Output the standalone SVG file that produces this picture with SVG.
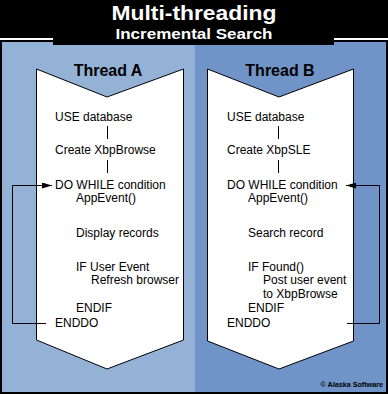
<svg xmlns="http://www.w3.org/2000/svg" width="388" height="394" viewBox="0 0 388 394">
<style>
.t{font-family:"Liberation Sans",Arial,sans-serif;font-size:12px;fill:#000}
.h{font-family:"Liberation Sans",Arial,sans-serif;font-weight:bold;font-size:16px;fill:#000;text-anchor:middle}
.ttl{font-family:"Liberation Sans",Arial,sans-serif;font-weight:bold;fill:#fff;text-anchor:middle}
.shape{fill:#fff;stroke:#000;stroke-width:1}
.ln{fill:none;stroke:#000;stroke-width:1}
</style>
<defs>
<marker id="ah" markerWidth="10" markerHeight="6" refX="10" refY="3" orient="auto" markerUnits="userSpaceOnUse">
<path d="M0,0 L10,3 L0,6 Z" fill="#000"/>
</marker>
</defs>
<rect x="0" y="0" width="388" height="394" fill="#000"/>
<rect x="2" y="42" width="193" height="350" fill="#94B2D6"/>
<rect x="195" y="42" width="191" height="350" fill="#7094C7"/>
<rect x="53" y="0" width="281" height="45" fill="#000"/>
<rect x="0" y="38" width="53" height="2" fill="#fff"/>
<rect x="334" y="38" width="54" height="2" fill="#fff"/>
<g id="title">
<text class="ttl" x="194" y="20" font-size="20" textLength="165" lengthAdjust="spacingAndGlyphs">Multi-threading</text>
<text class="ttl" x="194" y="39" font-size="14.5" textLength="157" lengthAdjust="spacingAndGlyphs">Incremental Search</text>
</g>
<g id="threadA">
<polygon class="shape" points="36.5,69 107,97 183.5,69 183.5,340 107,369 36.5,340"/>
<text class="h" x="108" y="76">Thread A</text>
<text class="t" x="55" y="121">USE database</text>
<text class="t" x="55" y="154">Create  XbpBrowse</text>
<text class="t" x="55" y="189">DO WHILE condition</text>
<text class="t" x="76" y="202">AppEvent()</text>
<text class="t" x="76" y="237">Display records</text>
<text class="t" x="76" y="271">IF User Event</text>
<text class="t" x="91" y="284">Refresh browser</text>
<text class="t" x="76" y="312">ENDIF</text>
<text class="t" x="55" y="327">ENDDO</text>
</g>
<g id="threadB">
<polygon class="shape" points="207.5,69 279,97 353.5,69 353.5,341 279,369 207.5,341"/>
<text class="h" x="280" y="76">Thread B</text>
<text class="t" x="227" y="121">USE database</text>
<text class="t" x="227" y="154">Create XbpSLE</text>
<text class="t" x="227" y="189">DO WHILE condition</text>
<text class="t" x="248" y="202">AppEvent()</text>
<text class="t" x="248" y="237">Search record</text>
<text class="t" x="248" y="271">IF Found()</text>
<text class="t" x="263" y="284">Post user event</text>
<text class="t" x="263" y="298">to XbpBrowse</text>
<text class="t" x="248" y="312">ENDIF</text>
<text class="t" x="227" y="327">ENDDO</text>
</g>
<g id="connectors">
<line class="ln" x1="107.5" y1="126" x2="107.5" y2="139"/>
<line class="ln" x1="107.5" y1="160" x2="107.5" y2="173"/>
<line class="ln" x1="278.5" y1="126" x2="278.5" y2="139"/>
<line class="ln" x1="278.5" y1="160" x2="278.5" y2="173"/>
<path class="ln" d="M46,323.5 H12.5 V185.5 H52" marker-end="url(#ah)"/>
<path class="ln" d="M347,323.5 H379.5 V185.5 H346" marker-end="url(#ah)"/>
</g>
<text x="383" y="387" font-family="'Liberation Sans',Arial,sans-serif" font-weight="bold" font-size="7.2" fill="#000" text-anchor="end">© Alaska Software</text>
</svg>
